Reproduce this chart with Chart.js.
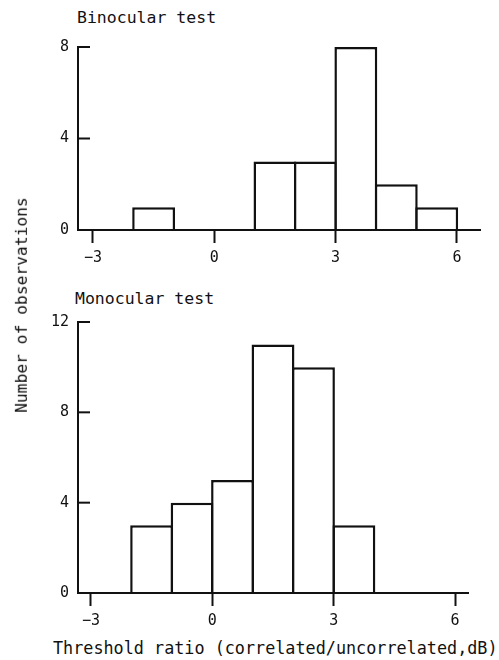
<!DOCTYPE html>
<html>
<head>
<meta charset="utf-8">
<script src="https://cdn.jsdelivr.net/npm/chart.js@4/dist/chart.umd.min.js"></script>
<style>
  body { margin: 0; background: #fff; }
  #page { position: relative; width: 499px; height: 660px; overflow: hidden; font-family: "DejaVu Sans Mono", monospace; color: #111; }
  canvas { position: absolute; left: 0; }
  .txt { position: absolute; white-space: nowrap; line-height: 1; }
</style>
</head>
<body>
<div id="page">
  <div class="txt" style="left:77px; top:10px; font-size:16.5px;">Binocular test</div>
  <canvas id="binoChart" width="499" height="270" style="top:0px"></canvas>
  <div class="txt" style="left:75px; top:291px; font-size:16.5px;">Monocular test</div>
  <canvas id="monoChart" width="499" height="350" style="top:280px"></canvas>
  <div class="txt" style="left:22px; top:305px; font-size:16.3px; transform: translate(-50%, -50%) rotate(-90deg);">Number of observations</div>
  <div class="txt" style="left:53px; top:640px; font-size:16.8px;">Threshold ratio (correlated/uncorrelated,dB)</div>
</div>
<script>
// histogram bins: left edge of each 1 dB bin, and counts
const binoBinStarts = [-2, 1, 2, 3, 4, 5];
const binoCounts = [1, 3, 3, 8, 2, 1];
const monoBinStarts = [-2, -1, 0, 1, 2, 3];
const monoCounts = [3, 4, 5, 11, 10, 3];
const binWidth = 1;

const xTickValues = [-3, 0, 3, 6];
const binoYTicks = [0, 4, 8];
const monoYTicks = [0, 4, 8, 12];

const ink = '#111';
const monoFont = "'DejaVu Sans Mono', monospace";

// y ticks in this figure point into the plot
const inwardTicks = {
    id: 'inwardTicks',
    afterDatasetsDraw(chart) {
        const {ctx, chartArea} = chart;
        const y = chart.scales.y;
        ctx.save();
        ctx.strokeStyle = ink;
        ctx.lineWidth = 2;
        y.ticks.forEach(t => {
            const py = y.getPixelForValue(t.value);
            ctx.beginPath();
            ctx.moveTo(chartArea.left, py);
            ctx.lineTo(chartArea.left + 12, py);
            ctx.stroke();
        });
        ctx.restore();
    }
};

function makeHist(id, starts, counts, yTicks, xRange, pad, xAxisHeight) {
    const ctx = document.getElementById(id).getContext('2d');
    return new Chart(ctx, {
        type: 'bar',
        data: {
            datasets: [{
                data: starts.map((s, i) => ({x: s + binWidth / 2, y: counts[i]})),
                backgroundColor: '#fff',
                borderColor: ink,
                borderWidth: 2.5,
                borderSkipped: 'start',
                barPercentage: 1.06,
                categoryPercentage: 1
            }]
        },
        options: {
            responsive: false,
            animation: false,
            layout: { padding: pad },
            plugins: { legend: { display: false }, tooltip: { enabled: false } },
            scales: {
                x: {
                    type: 'linear',
                    offset: false,
                    min: xRange[0],
                    max: xRange[1],
                    afterBuildTicks: s => { s.ticks = xTickValues.map(v => ({value: v})); },
                    afterFit: s => { s.height = xAxisHeight; },
                    grid: { offset: false, drawOnChartArea: false, drawTicks: true, tickLength: 13, tickWidth: 2, color: ink },
                    border: { display: true, width: 2, color: ink, z: 1 },
                    ticks: { color: ink, padding: 6, maxRotation: 0, font: { family: monoFont, size: 15 },
                             callback: v => String(v).replace('-', '\u2212') }
                },
                y: {
                    min: 0,
                    max: yTicks[yTicks.length - 1],
                    afterBuildTicks: s => { s.ticks = yTicks.map(v => ({value: v})); },
                    afterFit: s => { s.width = 78; },
                    grid: { drawOnChartArea: false, drawTicks: false },
                    border: { display: true, width: 2, color: ink },
                    ticks: { color: ink, padding: 9, font: { family: monoFont, size: 15 } }
                }
            }
        },
        plugins: [inwardTicks]
    });
}

makeHist('binoChart', binoBinStarts, binoCounts, binoYTicks, [-3.37, 6.57],
    {left: 0, right: 19, top: 47, bottom: 0}, 40);
makeHist('monoChart', monoBinStarts, monoCounts, monoYTicks, [-3.32, 6.32],
    {left: 0, right: 31, top: 42, bottom: 0}, 37);
</script>
</body>
</html>
